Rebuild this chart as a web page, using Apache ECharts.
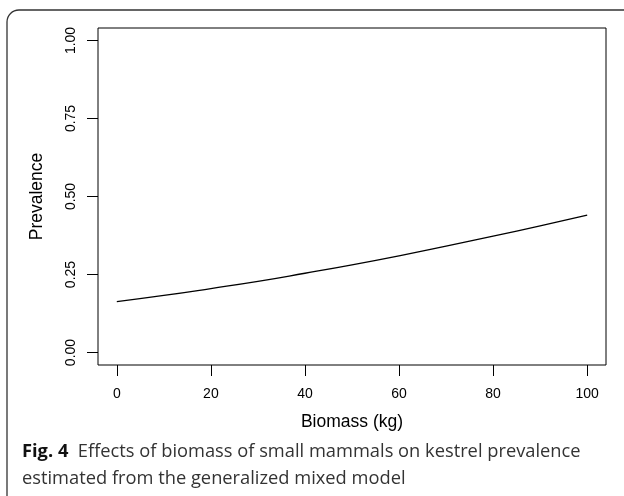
<!DOCTYPE html>
<html>
<head>
<meta charset="utf-8">
<script src="https://cdn.jsdelivr.net/npm/echarts@6/dist/echarts.min.js"></script>
<style>
  html, body { margin: 0; padding: 0; background: #fff; }
  #chart { width: 624px; height: 496px; }
</style>
</head>
<body>
<div id="chart"></div>
<script>
// biomass (kg) and fitted prevalence
var biomass = [0, 10, 20, 30, 40, 50, 60, 70, 80, 90, 100];
var prevalence = [0.163, 0.183, 0.205, 0.228, 0.254, 0.281, 0.310, 0.341, 0.373, 0.406, 0.440];
var xTicks = [0, 20, 40, 60, 80, 100];
var yTicks = [0, 0.25, 0.5, 0.75, 1];

var chart = echarts.init(document.getElementById('chart'));

var points = biomass.map(function (b, i) { return [b, prevalence[i]]; });

var option = {
  backgroundColor: '#fff',
  animation: false,
  grid: {
    left: 98, top: 28, right: 18, bottom: 131,
    show: true, borderColor: '#000', borderWidth: 1, backgroundColor: 'transparent'
  },
  xAxis: {
    type: 'value', min: -4, max: 104,
    name: 'Biomass (kg)', nameLocation: 'middle', nameGap: 48,
    nameTextStyle: { fontFamily: 'Liberation Sans', fontSize: 17.5, color: '#000' },
    axisLine: { show: false, onZero: false },
    splitLine: { show: false },
    axisTick: { show: true, inside: false, length: 11, customValues: xTicks, lineStyle: { color: '#000' } },
    axisLabel: {
      customValues: xTicks, margin: 22,
      fontFamily: 'Liberation Sans', fontSize: 14, color: '#000'
    }
  },
  yAxis: {
    type: 'value', min: -0.04, max: 1.04,
    name: 'Prevalence', nameLocation: 'middle', nameGap: 52, nameRotate: 90,
    nameTextStyle: { fontFamily: 'Liberation Sans', fontSize: 17.5, color: '#000' },
    axisLine: { show: false, onZero: false },
    splitLine: { show: false },
    axisTick: { show: true, inside: false, length: 11, customValues: yTicks, lineStyle: { color: '#000' } },
    axisLabel: {
      customValues: yTicks, margin: 20, rotate: 90,
      fontFamily: 'Liberation Sans', fontSize: 14, color: '#000',
      formatter: function (v) { return v.toFixed(2); }
    }
  },
  graphic: [
    {
      type: 'rect', silent: true,
      shape: { x: 7, y: 10, width: 640, height: 500, r: [12, 0, 0, 0] },
      style: { fill: 'none', stroke: '#333', lineWidth: 1.3 }
    },
    {
      type: 'text', left: 22, top: 438, silent: true,
      style: {
        text: '{b|Fig. 4}  Effects of biomass of small mammals on kestrel prevalence\nestimated from the generalized mixed model',
        fontFamily: 'Open Sans', fontSize: 18.3, lineHeight: 27, fill: '#333',
        rich: { b: { fontFamily: 'Open Sans', fontSize: 18.3, fontWeight: 'bold', fill: '#111', lineHeight: 27 } }
      }
    }
  ],
  series: [{
    type: 'line', data: points, smooth: true, showSymbol: false,
    lineStyle: { color: '#000', width: 1.3 }
  }]
};

chart.setOption(option);
</script>
</body>
</html>
